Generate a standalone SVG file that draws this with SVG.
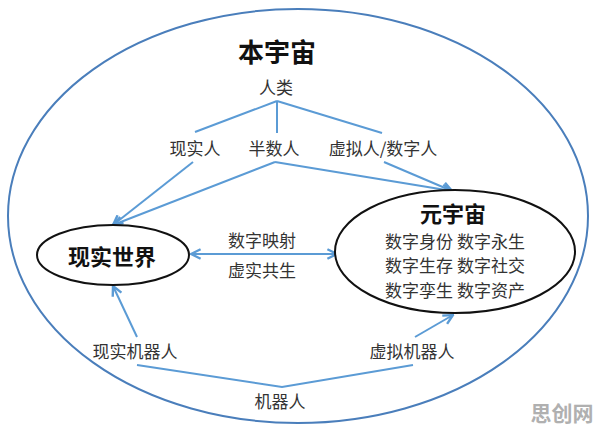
<svg xmlns="http://www.w3.org/2000/svg" width="596" height="431" viewBox="0 0 596 431">
<defs>
<style>
text{font-family:"Noto Sans CJK SC","Liberation Sans",sans-serif;text-anchor:middle;dominant-baseline:central;}
.lbl{font-size:17px;fill:#333;}
.big{font-size:26px;font-weight:bold;fill:#111;}
.mid{font-size:22px;font-weight:bold;fill:#111;}
.line{stroke:#5b9bd5;stroke-width:2;fill:none;}
.node{stroke:#111;stroke-width:2;fill:#fff;}
</style>
<marker id="ah" viewBox="0 0 10 10" refX="9" refY="5" markerWidth="6" markerHeight="6" orient="auto-start-reverse" markerUnits="strokeWidth">
<path d="M1,1 L9,5 L1,9" fill="none" stroke="#5b9bd5" stroke-width="2"/>
</marker>
</defs>
<rect width="596" height="431" fill="#fff"/>
<g id="universe">
<ellipse cx="298" cy="216" rx="290" ry="207" fill="none" stroke="#4a7ebb" stroke-width="2"/>
<text class="big" x="277" y="50">本宇宙</text>
</g>
<g id="connectors">
<line class="line" x1="277" y1="101" x2="195" y2="132"/>
<line class="line" x1="277" y1="101" x2="277" y2="133"/>
<line class="line" x1="277" y1="101" x2="382" y2="133"/>
<line class="line" x1="193" y1="162" x2="113" y2="225" marker-end="url(#ah)"/>
<line class="line" x1="275" y1="162" x2="113" y2="225" marker-end="url(#ah)"/>
<line class="line" x1="275" y1="162" x2="452" y2="191" marker-end="url(#ah)"/>
<line class="line" x1="384" y1="162" x2="452" y2="191" marker-end="url(#ah)"/>
<line class="line" x1="191" y1="254" x2="337" y2="254" marker-start="url(#ah)" marker-end="url(#ah)"/>
<line class="line" x1="137" y1="337" x2="113" y2="286" marker-end="url(#ah)"/>
<line class="line" x1="415" y1="337" x2="453" y2="315" marker-end="url(#ah)"/>
<polyline class="line" points="137,365 282,387 413,365"/>
</g>
<g id="renlei"><text class="lbl" x="276" y="86">人类</text></g>
<g id="xianshiren"><text class="lbl" x="195" y="147">现实人</text></g>
<g id="banshuren"><text class="lbl" x="274" y="147">半数人</text></g>
<g id="xunizren"><text class="lbl" x="383" y="147">虚拟人/数字人</text></g>
<g id="real-world">
<ellipse class="node" cx="113" cy="255" rx="76" ry="30"/>
<text class="mid" x="112" y="255">现实世界</text>
</g>
<g id="metaverse">
<ellipse class="node" cx="455" cy="251.5" rx="120" ry="61.5"/>
<text class="mid" x="453" y="212">元宇宙</text>
<text class="lbl" x="455" y="240">数字身份 数字永生</text>
<text class="lbl" x="455" y="264.5">数字生存 数字社交</text>
<text class="lbl" x="455" y="289">数字孪生 数字资产</text>
</g>
<g id="link-labels">
<text class="lbl" x="262" y="239">数字映射</text>
<text class="lbl" x="262" y="269">虚实共生</text>
</g>
<g id="real-robot"><text class="lbl" x="135" y="350">现实机器人</text></g>
<g id="virtual-robot"><text class="lbl" x="412" y="350">虚拟机器人</text></g>
<g id="robot"><text class="lbl" x="280" y="400">机器人</text></g>
<text x="562" y="412" style="font-size:21px;font-weight:bold;fill:#b0b0b0">思创网</text>
</svg>
